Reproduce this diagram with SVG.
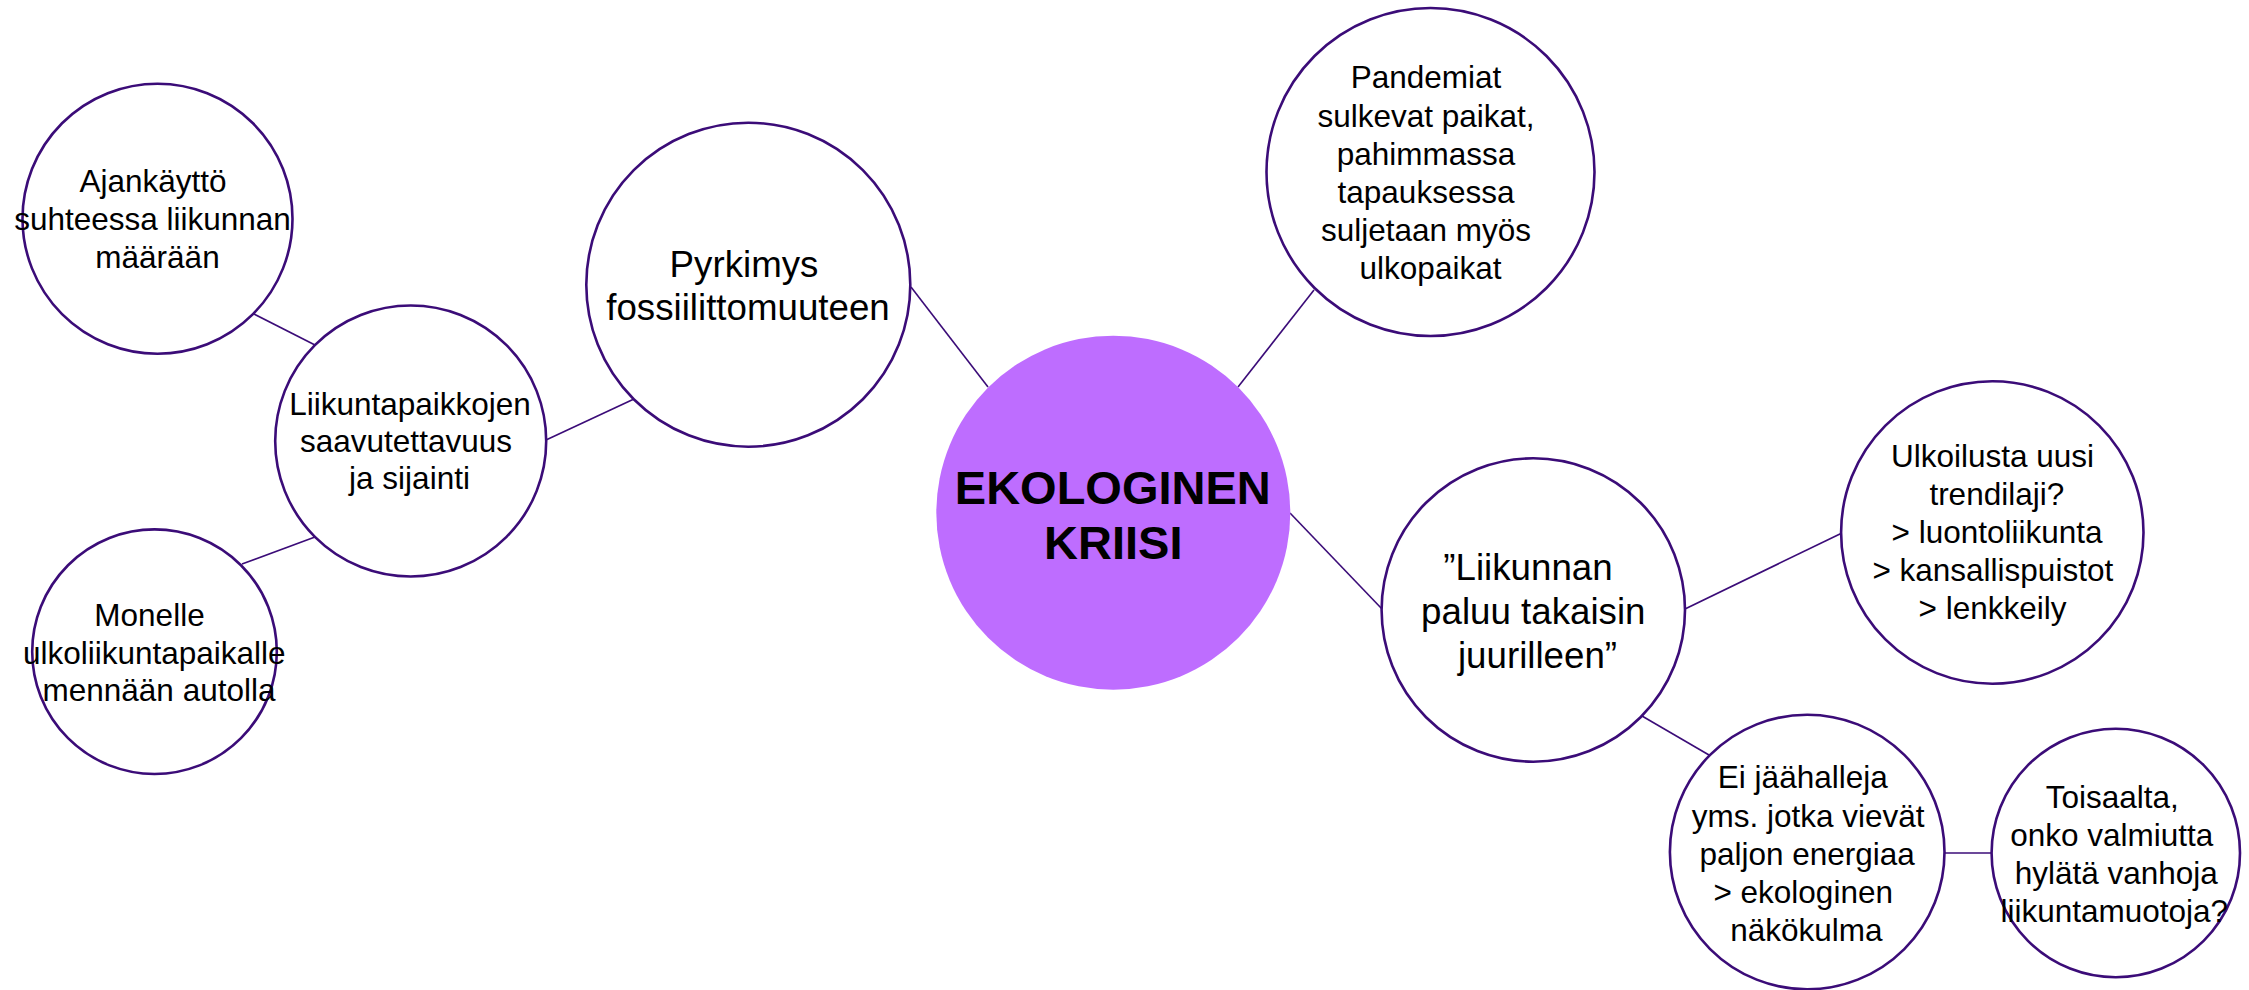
<svg xmlns="http://www.w3.org/2000/svg" width="2249" height="990" viewBox="0 0 2249 990">
<style>
.bg{fill:#ffffff}
.node{fill:#ffffff;stroke:#3b0c78;stroke-width:2.6}
.core{fill:#be6dff;stroke:none}
.edge{stroke:#3b0c78;stroke-width:1.6;fill:none}
.t{font-family:"Liberation Sans",Arial,sans-serif;font-size:31.5px;fill:#000;text-anchor:middle}
.tl{font-family:"Liberation Sans",Arial,sans-serif;font-size:36.7px;fill:#000;text-anchor:middle}
.tb{font-family:"Liberation Sans",Arial,sans-serif;font-size:47px;font-weight:bold;fill:#000;text-anchor:middle}
</style>
<rect class="bg" x="0" y="0" width="2249" height="990"/>
<g id="connectors">
<line class="edge" x1="254" y1="314" x2="315" y2="345"/>
<line class="edge" x1="242" y1="564" x2="315" y2="537"/>
<line class="edge" x1="546" y1="440" x2="634" y2="399"/>
<line class="edge" x1="911" y1="287" x2="988" y2="387"/>
<line class="edge" x1="1238" y1="387" x2="1314" y2="290"/>
<line class="edge" x1="1290" y1="513" x2="1382" y2="609"/>
<line class="edge" x1="1685" y1="609" x2="1842" y2="533"/>
<line class="edge" x1="1642" y1="716" x2="1709" y2="755"/>
<line class="edge" x1="1945" y1="853" x2="1991" y2="853"/>
</g>
<g id="ajankaytto">
<circle class="node" cx="157.5" cy="218.7" r="135"/>
<text class="t" x="153" y="192">Ajankäyttö</text>
<text class="t" x="152.5" y="230">suhteessa liikunnan</text>
<text class="t" x="157.5" y="267.5">määrään</text>
</g>
<g id="liikuntapaikkojen">
<circle class="node" cx="410.7" cy="441" r="135.5"/>
<text class="t" x="410" y="415">Liikuntapaikkojen</text>
<text class="t" x="406" y="452">saavutettavuus</text>
<text class="t" x="409.5" y="489">ja sijainti</text>
</g>
<g id="monelle">
<circle class="node" cx="154.5" cy="651.7" r="122.3"/>
<text class="t" x="149.5" y="626">Monelle</text>
<text class="t" x="154.3" y="664">ulkoliikuntapaikalle</text>
<text class="t" x="159" y="701">mennään autolla</text>
</g>
<g id="pyrkimys">
<circle class="node" cx="748.3" cy="284.7" r="162"/>
<text class="tl" x="744" y="277">Pyrkimys</text>
<text class="tl" x="748" y="319.5">fossiilittomuuteen</text>
</g>
<g id="ekologinen-kriisi">
<circle class="core" cx="1113.3" cy="512.7" r="177"/>
<text class="tb" x="1112.8" y="503.5">EKOLOGINEN</text>
<text class="tb" x="1113.3" y="558.5">KRIISI</text>
</g>
<g id="pandemiat">
<circle class="node" cx="1430.5" cy="172" r="164"/>
<text class="t" x="1426" y="88.3">Pandemiat</text>
<text class="t" x="1426" y="126.5">sulkevat paikat,</text>
<text class="t" x="1426" y="164.7">pahimmassa</text>
<text class="t" x="1426" y="202.9">tapauksessa</text>
<text class="t" x="1426" y="241.1">suljetaan myös</text>
<text class="t" x="1430.5" y="279.3">ulkopaikat</text>
</g>
<g id="liikunnan-paluu">
<circle class="node" cx="1533.3" cy="610" r="151.7"/>
<text class="tl" x="1528" y="580">”Liikunnan</text>
<text class="tl" x="1533.3" y="624">paluu takaisin</text>
<text class="tl" x="1537.5" y="668">juurilleen”</text>
</g>
<g id="ulkoilusta">
<circle class="node" cx="1992.3" cy="532.5" r="151.2"/>
<text class="t" x="1992.5" y="467.3">Ulkoilusta uusi</text>
<text class="t" x="1996.8" y="505.3">trendilaji?</text>
<text class="t" x="1997" y="543.3">&gt; luontoliikunta</text>
<text class="t" x="1992.8" y="581.3">&gt; kansallispuistot</text>
<text class="t" x="1992.5" y="619.3">&gt; lenkkeily</text>
</g>
<g id="ei-jaahalleja">
<circle class="node" cx="1807.2" cy="852" r="137.3"/>
<text class="t" x="1802.8" y="788.3">Ei jäähalleja</text>
<text class="t" x="1808.2" y="826.5">yms. jotka vievät</text>
<text class="t" x="1807.2" y="864.7">paljon energiaa</text>
<text class="t" x="1803.2" y="902.9">&gt; ekologinen</text>
<text class="t" x="1806.3" y="941">näkökulma</text>
</g>
<g id="toisaalta">
<circle class="node" cx="2115.8" cy="853" r="124.2"/>
<text class="t" x="2112.2" y="807.5">Toisaalta,</text>
<text class="t" x="2111.7" y="845.5">onko valmiutta</text>
<text class="t" x="2116.3" y="883.5">hylätä vanhoja</text>
<text class="t" x="2114.3" y="921.5">liikuntamuotoja?</text>
</g>
</svg>
